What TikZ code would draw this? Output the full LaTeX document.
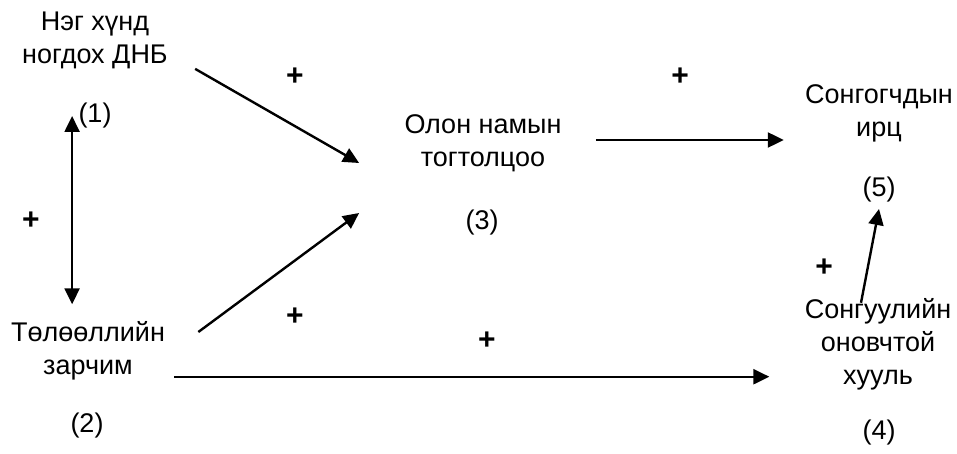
\documentclass[tikz,border=0pt]{standalone}
\usepackage{fontspec}
\setmainfont{Liberation Sans}
\usetikzlibrary{arrows.meta,calc}
\tikzset{
  lbl/.style={inner sep=0pt,align=center,font=\fontsize{13.5pt}{16.5pt}\selectfont},
  plus/.style={inner sep=0pt,font=\fontsize{15pt}{15pt}\selectfont\bfseries},
  arr/.style={line width=1.2pt,-{Triangle[length=8pt,width=7.5pt]}},
  darr/.style={line width=1.2pt,{Triangle[length=8pt,width=7.5pt]}-{Triangle[length=8pt,width=7.5pt]}},
}
\begin{document}
\begin{tikzpicture}[x=0.5pt,y=-0.5pt]
  \useasboundingbox (0,0) rectangle (957,454);
  % factors
  \node[lbl] (dnb) at (95,40) {Нэг хүнд\\ногдох ДНБ};
  \node[lbl] (n1) at (95,116) {(1)};
  \node[lbl] (tol) at (88,351) {Төлөөллийн\\зарчим};
  \node[lbl] (n2) at (87,426) {(2)};
  \node[lbl] (olon) at (483,143) {Олон намын\\тогтолцоо};
  \node[lbl] (n3) at (482,223) {(3)};
  \node[lbl] (song) at (879,113) {Сонгогчдын\\ирц};
  \node[lbl] (n5) at (879,190) {(5)};
  \node[lbl] (huul) at (878,344) {Сонгуулийн\\оновчтой\\хууль};
  \node[lbl] (n4) at (879,433) {(4)};
  % signs
  \foreach \px/\py [count=\i] in {295/77,680/77,31/221,295/317,487/341,824/268}
    \node[plus] (p\i) at (\px,\py) {+};
  % links
  \coordinate (up) at ($(n1.west)+(-6,0)$);
  \draw[darr] (up) -- (up |- {$(tol.north)+(0,-17)$});
  \draw[arr] ($(dnb.south east)+(27,0)$) -- ($(olon.west)+(-45,20)$);
  \draw[arr] ($(tol.east)+(33,-19)$) -- ($(olon.west)+(-45,70)$);
  \draw[arr] ($(olon.east)+(34,-3)$) -- ($(olon.east -| song.west)+(-21,-3)$);
  \draw[arr] ($(tol.south east)+(9,-4)$) -- ($(tol.south east -| huul.west)+(-35,-4)$);
  \draw[arr] ($(huul.north)+(-17,5)$) -- ($(n5.south)+(0,6)$);
\end{tikzpicture}
\end{document}
